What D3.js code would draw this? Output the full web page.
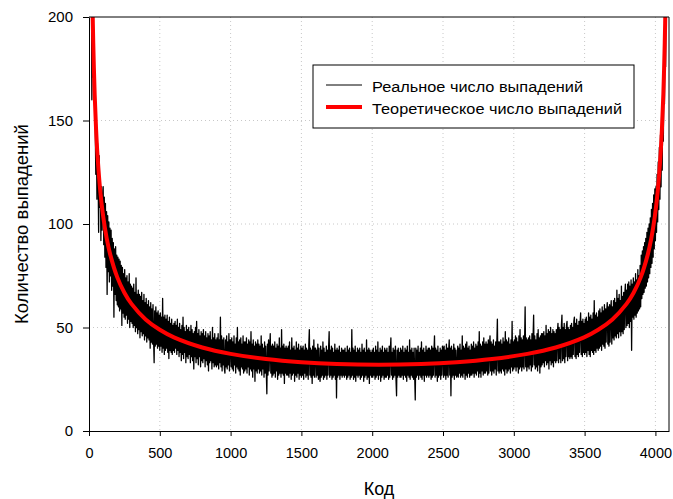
<!DOCTYPE html>
<html>
<head>
<meta charset="utf-8">
<script src="https://cdn.jsdelivr.net/npm/d3@7"></script>
<style>
  html, body { margin: 0; padding: 0; background: #fff; }
  svg { display: block; }
  text { font-family: "Liberation Sans", Arial, sans-serif; fill: #000; }
</style>
</head>
<body>
<svg id="chart" width="673" height="499"></svg>
<script>
// ---------------- DATA ----------------
const xTickValues = [0, 500, 1000, 1500, 2000, 2500, 3000, 3500, 4000];
const yTickValues = [0, 50, 100, 150, 200];
const codeStep = 4;           // real counts sampled every 4th code, starting at 0
const legendLabels = ["Реальное число выпадений", "Теоретическое число выпадений"];

const realCounts = [
  // 0..96
  470,498,371,305,249,160,212,171,190,166,172,148,124,150,112,139,127,96,133,108,121,92,118,97,112,
  // 100..296
  118,90,113,84,110,79,106,66,104,77,101,72,98,75,97,68,93,70,91,55,88,66,89,63,85,
  61,84,60,83,58,82,59,80,51,79,57,76,55,78,54,74,56,75,52,72,54,76,50,71,53,
  // 300..596
  70,52,69,50,71,51,67,48,74,50,66,47,68,49,66,45,65,48,67,46,63,47,66,44,62,
  46,64,43,61,45,63,44,60,40,62,43,59,42,61,44,33,58,41,60,42,57,40,58,41,56,
  39,57,41,55,38,64,40,55,37,56,39,54,40,56,38,53,35,55,39,52,38,54,37,51,39,
  // 600..996
  52,38,53,40,51,37,54,39,50,36,52,38,49,34,51,37,55,35,50,38,48,33,51,36,49,
  35,50,37,48,33,51,36,49,34,47,30,48,36,50,33,53,35,47,32,49,36,46,31,48,34,
  47,33,49,35,46,31,48,34,45,32,47,29,46,33,48,34,44,30,50,33,45,31,47,32,44,
  31,45,32,47,30,44,33,55,31,46,29,44,32,45,30,28,44,31,46,30,43,32,47,29,44,
  // 1000..1996
  44,31,45,30,43,29,46,32,42,28,45,31,50,30,43,29,44,27,45,31,42,30,46,28,43,
  29,43,30,45,28,42,31,44,27,43,30,48,29,42,26,44,30,41,24,43,29,42,28,44,30,
  42,28,41,29,46,27,42,30,40,26,43,28,41,29,18,42,27,44,29,40,47,28,41,26,42,
  27,41,28,43,26,40,29,42,25,41,27,45,28,40,26,49,28,41,27,42,23,40,28,41,27,
  40,27,41,26,43,28,39,25,45,27,40,28,41,24,39,27,43,26,40,28,42,25,39,27,41,
  26,40,27,41,25,39,28,42,26,40,27,39,25,41,49,27,40,26,39,23,41,27,44,26,40,
  40,26,39,27,42,25,40,27,24,41,26,39,27,43,25,40,26,38,27,41,25,39,27,40,48,
  26,39,27,41,25,40,26,38,27,42,25,39,16,40,26,39,27,41,25,38,27,40,26,39,27,
  39,26,40,27,38,25,41,26,39,27,40,25,38,26,49,27,40,25,39,26,41,24,38,27,40,
  26,39,27,40,25,38,26,42,27,39,24,40,26,38,27,44,25,39,26,40,23,39,27,38,26,
  // 2000..2996
  39,26,40,27,38,25,41,26,39,27,43,25,38,27,40,24,39,26,41,27,38,25,40,26,39,
  26,40,27,38,25,41,26,39,45,27,38,25,40,26,39,27,41,25,17,39,26,40,27,38,26,
  40,26,39,27,41,25,38,27,40,26,39,24,41,27,38,26,44,25,39,27,40,26,38,25,40,
  27,15,40,26,39,27,41,25,38,27,40,26,43,25,39,27,40,24,38,27,41,26,39,27,40,
  26,40,27,39,25,41,26,40,27,38,46,26,40,27,39,24,41,26,38,27,40,25,39,27,41,
  40,26,41,27,39,25,42,27,40,26,39,44,27,40,17,41,26,39,27,42,25,40,27,39,26,
  27,41,26,40,28,42,26,39,27,46,26,41,28,40,25,42,27,43,26,40,28,41,26,39,27,
  42,27,41,28,43,26,40,28,42,27,41,29,43,26,48,28,42,26,41,29,43,27,45,28,42,
  28,43,29,42,27,44,28,41,46,29,43,27,42,29,44,28,41,30,43,27,42,54,29,43,28,
  43,29,44,28,42,30,45,29,43,27,48,30,44,28,43,29,45,30,42,28,44,31,53,29,43,
  // 3000..3496
  30,44,31,46,29,45,31,43,28,46,30,49,31,45,29,44,31,46,30,43,60,31,45,29,44,
  31,45,30,46,32,44,29,47,31,45,56,32,46,30,44,31,47,29,49,32,45,28,46,31,47,
  32,47,33,48,31,46,34,51,32,47,33,49,30,48,34,50,32,47,33,49,31,48,34,47,33,
  49,34,48,52,33,50,35,49,33,51,56,34,50,35,52,33,49,36,51,53,34,50,36,49,35,
  51,36,52,35,50,37,53,55,36,52,35,54,37,51,36,53,38,52,57,37,53,36,54,38,52,
  // 3500..3796
  37,54,38,55,36,53,39,57,37,55,36,56,39,54,38,57,37,63,39,56,38,57,40,55,39,
  58,40,59,41,57,39,60,42,58,41,61,40,59,43,58,62,42,60,41,61,43,59,63,42,60,
  45,63,44,64,46,62,45,68,47,64,45,66,48,63,46,70,48,65,47,67,49,66,71,50,68,
  // 3800..3996
  51,71,52,72,50,70,53,73,39,71,55,74,54,72,56,76,55,73,57,78,58,75,59,80,60,
  85,64,87,66,89,67,91,69,93,70,96,72,98,74,100,76,103,79,107,81,110,84,114,88,117,
  // 4000..4092
  92,118,96,124,101,130,107,137,112,143,118,152,126,162,140,172,158,190,176,224,214,263,380,506
];

// Theoretical number of hits
const theoryCodes  = [10,15,20,25,30,40,50,60,80,100,125,150,200,250,300,400,500,600,800,1000,1250,1500,1750,2048,
                      2346,2596,2846,3096,3296,3496,3596,3696,3796,3846,3896,3946,3971,3996,4016,4036,4046,4056,4066,4071,4076,4081,4086];
const theoryCounts = [324,264.9,229.5,205.4,187.6,162.7,145.7,133.2,115.6,103.7,93.0,85.2,74.2,66.8,61.4,53.9,48.9,45.25,40.36,37.25,34.75,33.21,32.34,32.0,
                      32.34,33.21,34.75,37.25,40.36,45.25,48.9,53.9,61.4,66.8,74.2,85.2,93.0,103.7,115.6,133.2,145.7,162.7,187.6,205.4,229.5,264.9,324];

// ---------------- CHART ----------------
const svg = d3.select("#chart");
const W = 673, H = 499;
const m = { left: 89, right: 4, top: 17, bottom: 68 };
const pw = W - m.left - m.right;   // 580
const ph = H - m.top - m.bottom;   // 414
const FONT = '"Liberation Sans", Arial, sans-serif';

const x = d3.scaleLinear().domain([0, 4096]).range([m.left, m.left + pw]);
const y = d3.scaleLinear().domain([0, 200]).range([m.top + ph, m.top]);

// grid
const grid = svg.append("g");
grid.selectAll("line.gx").data(xTickValues.filter(d => d > 0)).join("line")
  .attr("x1", d => x(d)).attr("x2", d => x(d))
  .attr("y1", m.top).attr("y2", m.top + ph)
  .attr("stroke", "#c8c8c8").attr("stroke-width", 1).attr("stroke-dasharray", "1,3");
grid.selectAll("line.gy").data(yTickValues.filter(d => d > 0 && d < 200)).join("line")
  .attr("x1", m.left).attr("x2", m.left + pw)
  .attr("y1", d => y(d)).attr("y2", d => y(d))
  .attr("stroke", "#c8c8c8").attr("stroke-width", 1).attr("stroke-dasharray", "1,3");

// clip
svg.append("clipPath").attr("id", "clip").append("rect")
  .attr("x", m.left).attr("y", m.top).attr("width", pw).attr("height", ph);

const plot = svg.append("g").attr("clip-path", "url(#clip)");

const realLine = d3.line()
  .x((d, i) => x(i * codeStep))
  .y(d => y(d));
plot.append("path").datum(realCounts)
  .attr("d", realLine)
  .attr("fill", "none").attr("stroke", "#000").attr("stroke-width", 1.3)
  .attr("stroke-linejoin", "round");

const theoryData = theoryCodes.map((c, i) => [c, theoryCounts[i]]);
const theoryLine = d3.line()
  .x(d => x(d[0])).y(d => y(d[1]))
  .curve(d3.curveCatmullRom.alpha(0.5));
plot.append("path").datum(theoryData)
  .attr("d", theoryLine)
  .attr("fill", "none").attr("stroke", "#ff0000").attr("stroke-width", 4);

// frame (top & right)
svg.append("line").attr("x1", m.left).attr("x2", m.left + pw).attr("y1", m.top).attr("y2", m.top)
  .attr("stroke", "#000").attr("stroke-width", 1);
svg.append("line").attr("x1", m.left + pw).attr("x2", m.left + pw).attr("y1", m.top).attr("y2", m.top + ph)
  .attr("stroke", "#000").attr("stroke-width", 1);

// axes
const xAxis = d3.axisBottom(x).tickValues(xTickValues).tickFormat(d3.format("d"))
  .tickSize(5).tickSizeOuter(0).tickPadding(12);
const gx = svg.append("g").attr("transform", `translate(0,${m.top + ph})`).call(xAxis);
const yAxis = d3.axisLeft(y).tickValues(yTickValues).tickFormat(d3.format("d"))
  .tickSize(6).tickSizeOuter(0).tickPadding(10);
const gy = svg.append("g").attr("transform", `translate(${m.left},0)`).call(yAxis);
gx.selectAll("text").style("font-size", "14.5px");
gy.selectAll("text").style("font-size", "15px");
[gx, gy].forEach(g => {
  g.selectAll("text").style("font-family", FONT).attr("fill", "#000");
  g.selectAll("line").attr("stroke", "#000");
  g.select(".domain").attr("stroke", "#000");
});

// axis titles
svg.append("text").attr("x", m.left + pw / 2).attr("y", 495)
  .attr("text-anchor", "middle").style("font-size", "18px").text("Код");
svg.append("text")
  .attr("transform", `translate(28,${m.top + ph / 2}) rotate(-90)`)
  .attr("text-anchor", "middle").style("font-size", "18.5px").text("Количество выпадений");

// legend
const lg = svg.append("g");
lg.append("rect").attr("x", 313).attr("y", 65).attr("width", 321).attr("height", 63)
  .attr("fill", "#fff").attr("stroke", "#000").attr("stroke-width", 1);
const legendStyles = [{ color: "#000", width: 1, len: 211 }, { color: "#ff0000", width: 4, len: 250 }];
legendLabels.forEach((lab, i) => {
  const cy = 85 + i * 22;
  lg.append("line").attr("x1", 326).attr("x2", 362).attr("y1", cy).attr("y2", cy)
    .attr("stroke", legendStyles[i].color).attr("stroke-width", legendStyles[i].width);
  lg.append("text").attr("x", 372).attr("y", cy + 7).style("font-size", "15.5px")
    .attr("textLength", legendStyles[i].len).attr("lengthAdjust", "spacingAndGlyphs")
    .text(lab);
});
</script>
</body>
</html>
